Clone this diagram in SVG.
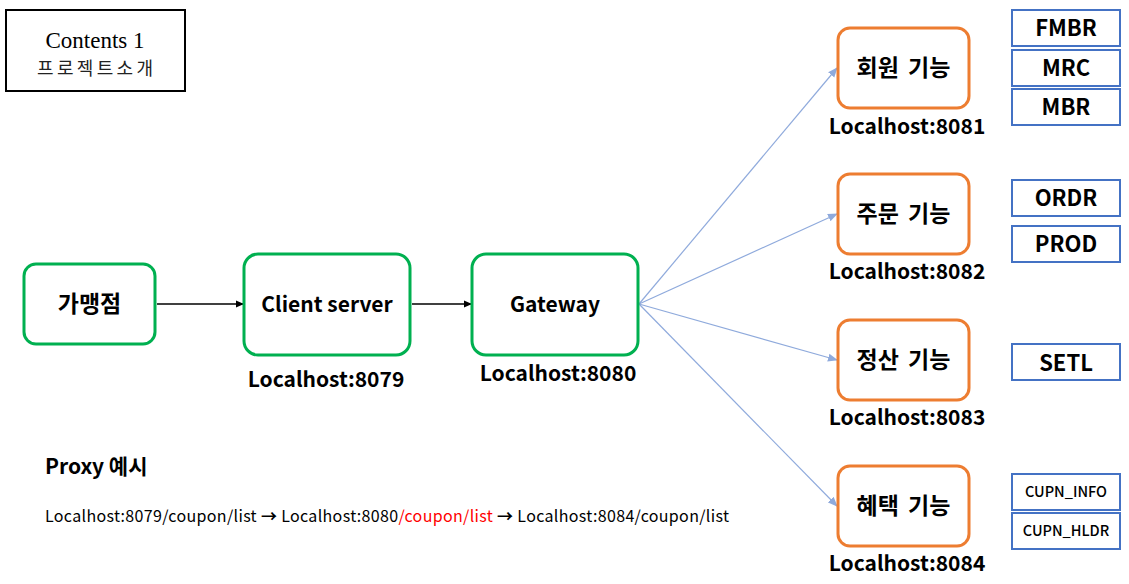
<svg xmlns="http://www.w3.org/2000/svg" width="1129" height="584" viewBox="0 0 1129 584">
<style>
.k{font-family:"Noto Sans CJK KR","Liberation Sans",sans-serif;font-weight:bold;fill:#000}
.g{fill:#fff;stroke:#00B050;stroke-width:3}
.o{fill:#fff;stroke:#ED7D31;stroke-width:3}
.b{fill:#fff;stroke:#4472C4;stroke-width:2}
.lbl{font-size:21px;text-anchor:middle}
.kor{font-size:23px;text-anchor:middle;word-spacing:4px}
.host{font-size:21px;text-anchor:middle}
.db{font-size:22px;text-anchor:middle}
.dbs{font-size:14.5px;text-anchor:middle;font-weight:500}
</style>
<defs>
<marker id="ab" markerWidth="8" markerHeight="8" refX="7" refY="4" orient="auto" markerUnits="userSpaceOnUse"><path d="M0,0.5 L8,4 L0,7.5 z" fill="#000"/></marker>
<marker id="ablue" markerWidth="10" markerHeight="10" refX="9" refY="5" orient="auto" markerUnits="userSpaceOnUse"><path d="M0,1 L10,5 L0,9 z" fill="#8FAADC"/></marker>
</defs>
<g id="title">
<rect x="6" y="10" width="179" height="81" fill="#fff" stroke="#000" stroke-width="2"/>
<text x="95" y="48" font-family="Liberation Serif,serif" font-size="23" text-anchor="middle">Contents 1</text>
<text x="95" y="75" font-family="Noto Sans CJK KR,sans-serif" font-size="18" text-anchor="middle" textLength="116" lengthAdjust="spacing" fill="#222">프로젝트소개</text>
</g>
<g id="connectors">
<line x1="157" y1="304" x2="243" y2="304" stroke="#000" stroke-width="1.3" marker-end="url(#ab)"/>
<line x1="412" y1="304" x2="471" y2="304" stroke="#000" stroke-width="1.3" marker-end="url(#ab)"/>
<g stroke="#8FAADC" stroke-width="1.2" fill="none">
<line x1="639" y1="304" x2="837" y2="68" marker-end="url(#ablue)"/>
<line x1="639" y1="304" x2="837" y2="214" marker-end="url(#ablue)"/>
<line x1="639" y1="304" x2="837" y2="360" marker-end="url(#ablue)"/>
<line x1="639" y1="304" x2="837" y2="506" marker-end="url(#ablue)"/>
</g>
</g>
<g id="n-franchise">
<rect class="g" x="24" y="264" width="131" height="80" rx="12"/>
<text class="k kor" x="89.5" y="312">가맹점</text>
</g>
<g id="n-client">
<rect class="g" x="244" y="254" width="166" height="101" rx="14"/>
<text class="k lbl" x="327" y="312">Client server</text>
<text class="k host" x="326" y="387">Localhost:8079</text>
</g>
<g id="n-gateway">
<rect class="g" x="472" y="254" width="166" height="101" rx="14"/>
<text class="k lbl" x="555" y="312">Gateway</text>
<text class="k host" x="558" y="381">Localhost:8080</text>
</g>
<g id="n-member">
<rect class="o" x="838" y="28" width="131" height="80" rx="12"/>
<text class="k kor" x="903.5" y="76">회원 기능</text>
<text class="k host" x="907" y="134">Localhost:8081</text>
</g>
<g id="n-order">
<rect class="o" x="838" y="174" width="131" height="80" rx="12"/>
<text class="k kor" x="903.5" y="222">주문 기능</text>
<text class="k host" x="907" y="279">Localhost:8082</text>
</g>
<g id="n-settle">
<rect class="o" x="838" y="320" width="131" height="80" rx="12"/>
<text class="k kor" x="903.5" y="368">정산 기능</text>
<text class="k host" x="907" y="425">Localhost:8083</text>
</g>
<g id="n-benefit">
<rect class="o" x="838" y="466" width="131" height="80" rx="12"/>
<text class="k kor" x="903.5" y="514">혜택 기능</text>
<text class="k host" x="907" y="571">Localhost:8084</text>
</g>
<g id="t-fmbr"><rect class="b" x="1012" y="10" width="108" height="36"/><text class="k db" x="1066" y="36">FMBR</text></g>
<g id="t-mrc"><rect class="b" x="1012" y="50" width="108" height="36"/><text class="k db" x="1066" y="76">MRC</text></g>
<g id="t-mbr"><rect class="b" x="1012" y="89" width="108" height="36"/><text class="k db" x="1066" y="115">MBR</text></g>
<g id="t-ordr"><rect class="b" x="1012" y="180" width="108" height="36"/><text class="k db" x="1066" y="206">ORDR</text></g>
<g id="t-prod"><rect class="b" x="1012" y="226" width="108" height="36"/><text class="k db" x="1066" y="252">PROD</text></g>
<g id="t-setl"><rect class="b" x="1012" y="344" width="108" height="36"/><text class="k db" x="1066" y="371">SETL</text></g>
<g id="t-cupn-info"><rect class="b" x="1012" y="474" width="108" height="36"/><text class="k dbs" x="1066" y="497">CUPN_INFO</text></g>
<g id="t-cupn-hldr"><rect class="b" x="1012" y="513" width="108" height="36"/><text class="k dbs" x="1066" y="536">CUPN_HLDR</text></g>
<g id="proxy">
<text class="k" x="45" y="474" font-size="21">Proxy 예시</text>
<text x="45" y="522" font-family="Noto Sans CJK KR,Liberation Sans,sans-serif" font-size="16" textLength="684" lengthAdjust="spacing" fill="#000">Localhost:8079/coupon/list <tspan font-weight="bold">→</tspan> Localhost:8080<tspan fill="#FF0000">/coupon/list</tspan> <tspan font-weight="bold">→</tspan> Localhost:8084/coupon/list</text>
</g>
</svg>
